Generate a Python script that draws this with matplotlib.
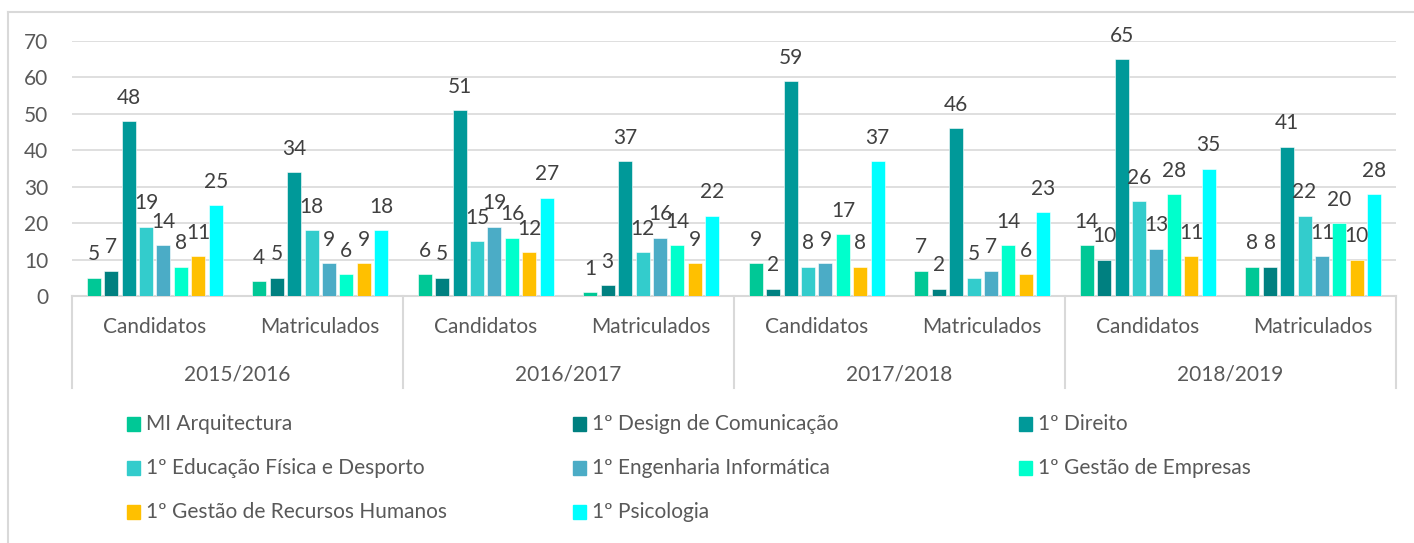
import matplotlib
matplotlib.use("Agg")
import matplotlib.pyplot as plt
from matplotlib.lines import Line2D
from matplotlib.patches import Rectangle
import matplotlib.transforms as mtransforms
import numpy as np

plt.rcParams["font.family"] = ["Lato", "DejaVu Sans"]

years = ["2015/2016", "2016/2017", "2017/2018", "2018/2019"]
stages = ["Candidatos", "Matriculados"]

courses = [
    "MI Arquitectura",
    "1º Design de Comunicação",
    "1º Direito",
    "1º Educação Física e Desporto",
    "1º Engenharia Informática",
    "1º Gestão de Empresas",
    "1º Gestão de Recursos Humanos",
    "1º Psicologia",
]
colors = ["#00C896", "#008080", "#009999", "#33CCCC",
          "#4BACC6", "#00FFCC", "#FFC000", "#00FFFF"]

# one list per course, 8 values: (year, Candidatos/Matriculados)
arquitectura = [5, 4, 6, 1, 9, 7, 14, 8]
design = [7, 5, 5, 3, 2, 2, 10, 8]
direito = [48, 34, 51, 37, 59, 46, 65, 41]
educacao_fisica = [19, 18, 15, 12, 8, 5, 26, 22]
engenharia_inf = [14, 9, 19, 16, 9, 7, 13, 11]
gestao_empresas = [8, 6, 16, 14, 17, 14, 28, 20]
gestao_rh = [11, 9, 12, 9, 8, 6, 11, 10]
psicologia = [25, 18, 27, 22, 37, 23, 35, 28]

series = [arquitectura, design, direito, educacao_fisica,
          engenharia_inf, gestao_empresas, gestao_rh, psicologia]

text_color = "#595959"
grid_color = "#D9D9D9"
W, H = 1414, 543

fig = plt.figure(figsize=(W / 100, H / 100), dpi=100)
ax = fig.add_axes([72 / W, 1 - 296 / H, (1396 - 72) / W, 255 / H])

x = np.arange(len(years) * len(stages))
pitch = 0.1053
width = 0.0846
for i, (vals, col) in enumerate(zip(series, colors)):
    pos = x + (i - 3.5) * pitch
    bars = ax.bar(pos, vals, width, color=col, edgecolor="white",
                  linewidth=0.4, zorder=3)
    for p, v in zip(pos, vals):
        ax.annotate(str(v), (p, v), xytext=(0, 12.5), textcoords="offset points",
                    ha="center", va="baseline", fontsize=15, color="#404040",
                    zorder=4)

ax.set_xlim(-0.5, 7.5)
ax.set_ylim(0, 70)
ax.set_yticks(range(0, 71, 10))
ax.tick_params(axis="y", length=0, pad=17, labelsize=15, labelcolor=text_color)
ax.set_xticks([])
ax.grid(axis="y", color=grid_color, linewidth=1.2, zorder=0)
for s in ["top", "right", "left"]:
    ax.spines[s].set_visible(False)
ax.spines["bottom"].set_color(grid_color)
ax.spines["bottom"].set_linewidth(1.5)

trans = mtransforms.blended_transform_factory(ax.transData, ax.transAxes)
sep_bottom = -(388 - 296) / 255
for xs in [-0.5, 1.5, 3.5, 5.5, 7.5]:
    ax.add_line(Line2D([xs, xs], [0, sep_bottom], transform=trans,
                       color=grid_color, linewidth=1.5, clip_on=False))

for k, xi in enumerate(x):
    ax.text(xi, -(327 - 296) / 255, stages[k % 2], transform=trans,
            ha="center", va="center", fontsize=15, color=text_color)
for j, yr in enumerate(years):
    ax.text(2 * j + 0.5, -(374 - 296) / 255, yr, transform=trans,
            ha="center", va="center", fontsize=15, color=text_color)

# legend, row-wise in three columns
col_x = [127, 573, 1019]
row_y = [424, 468, 512]
for k, (name, col) in enumerate(zip(courses, colors)):
    cx = col_x[k % 3]
    cy = row_y[k // 3]
    fig.patches.append(Rectangle(((cx) / W, 1 - (cy + 7) / H), 13 / W, 14 / H,
                                 transform=fig.transFigure, color=col))
    fig.text((cx + 19) / W, 1 - cy / H, name, ha="left", va="center",
             fontsize=15, color=text_color)

# chart frame
fig.add_artist(Line2D([8 / W, 1], [1 - 12 / H, 1 - 12 / H],
                      transform=fig.transFigure, color=grid_color, linewidth=1.5))
fig.add_artist(Line2D([8 / W, 8 / W], [0, 1 - 12 / H],
                      transform=fig.transFigure, color=grid_color, linewidth=1.5))

fig.savefig("out.png", dpi=100)
